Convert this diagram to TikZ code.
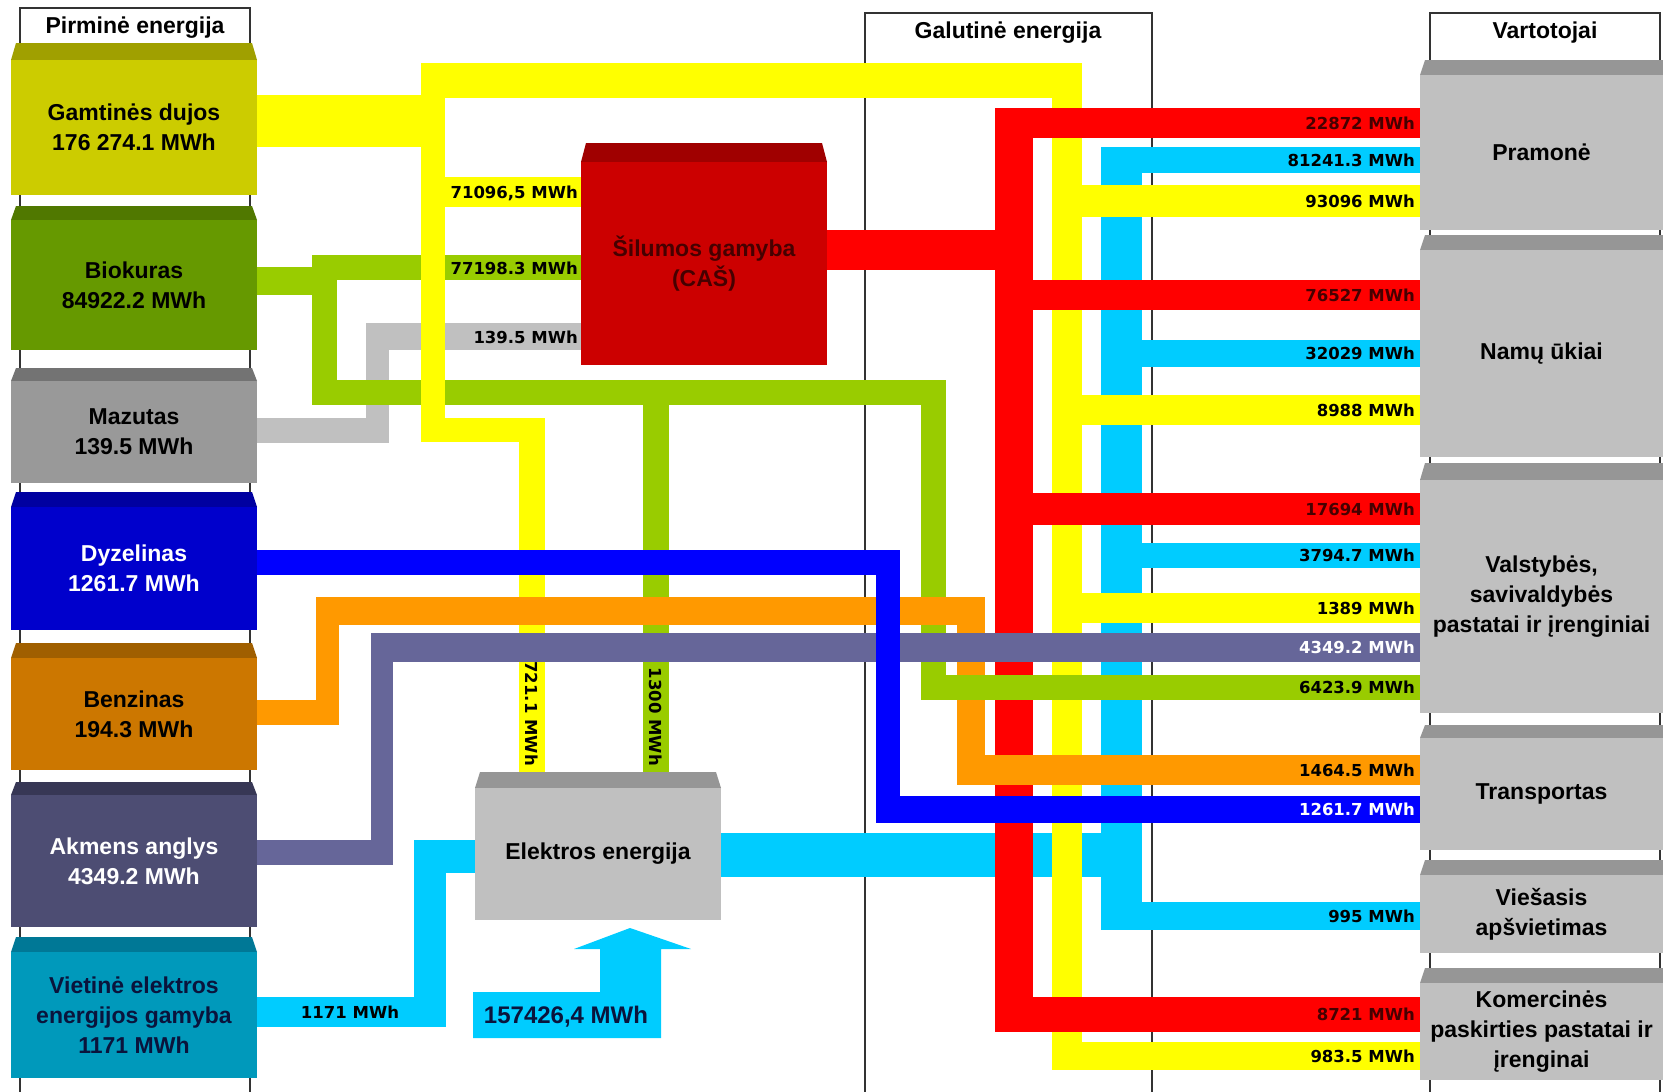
\documentclass[tikz,border=0pt]{standalone}
\usepackage{fontspec}
\setmainfont{Liberation Sans}
\newfontfamily\pixfont{DejaVu Sans}
\usetikzlibrary{positioning}

% boxes
\definecolor{cgas}{RGB}{204,204,0}
\definecolor{cgasd}{RGB}{160,160,0}
\definecolor{cbio}{RGB}{102,153,0}
\definecolor{cbiod}{RGB}{80,120,0}
\definecolor{cmaz}{RGB}{153,153,153}
\definecolor{cmazd}{RGB}{115,115,115}
\definecolor{cdyz}{RGB}{0,0,204}
\definecolor{cdyzd}{RGB}{0,0,160}
\definecolor{cben}{RGB}{204,119,0}
\definecolor{cbend}{RGB}{160,95,0}
\definecolor{cakm}{RGB}{77,77,115}
\definecolor{cakmd}{RGB}{55,55,85}
\definecolor{cvie}{RGB}{0,153,187}
\definecolor{cvied}{RGB}{0,120,150}
\definecolor{cheat}{RGB}{204,0,0}
\definecolor{cheatd}{RGB}{160,0,0}
\definecolor{cgrey}{RGB}{192,192,192}
\definecolor{cgreyd}{RGB}{150,150,150}
% flows
\definecolor{fyel}{RGB}{255,255,0}
\definecolor{fred}{RGB}{255,0,0}
\definecolor{fcya}{RGB}{0,204,255}
\definecolor{fblu}{RGB}{0,0,255}
\definecolor{fora}{RGB}{255,153,0}
\definecolor{fsla}{RGB}{102,102,153}
\definecolor{fgre}{RGB}{153,204,0}
\definecolor{fgry}{RGB}{192,192,192}
\definecolor{dkred}{RGB}{70,0,0}
\definecolor{dknavy}{RGB}{10,20,60}

\begin{document}
\begin{tikzpicture}[x=1pt,y=-1pt,
  frame/.style={draw=black!80, line width=1.5pt},
  box/.style={minimum width=246, minimum height=#1, inner sep=0, align=center,
    font=\bfseries\fontsize{23}{30}\selectfont},
  cbox/.style={box=#1, minimum width=243, fill=cgrey},
  head/.style={inner sep=0, font=\bfseries\fontsize{23}{28}\selectfont},
  flab/.style={inner sep=0, anchor=east, font=\pixfont\bfseries\fontsize{16.5}{18}\selectfont}]
  \useasboundingbox (0,0) rectangle (1663,1092);

  % column frames
  \draw[frame] (20,1092) -- (20,8) -- (250,8) -- (250,1092);
  \draw[frame] (865,1092) -- (865,13) -- (1152,13) -- (1152,1092);
  \draw[frame] (1430,1092) -- (1430,13) -- (1660,13) -- (1660,1092);
  \node[head] (hprim) at (135,28) {Pirminė energija};
  \node[head] (hfin) at (1008,33) {Galutinė energija};
  \node[head] (hcons) at (1545,33) {Vartotojai};

  % bevelled tops
  \foreach \xa/\xb/\ya/\yb/\c in {11/257/43/60/cgasd, 11/257/206/220/cbiod,
      11/257/368/381/cmazd, 11/257/492/507/cdyzd, 11/257/643/658/cbend,
      11/257/782/795/cakmd, 11/257/937/952/cvied, 581/827/143/162/cheatd,
      475/721/772/788/cgreyd, 1420/1668/60/75/cgreyd, 1420/1668/235/250/cgreyd,
      1420/1668/463/480/cgreyd, 1420/1668/725/738/cgreyd,
      1420/1668/860/875/cgreyd, 1420/1668/968/983/cgreyd}
    \fill[\c] (\xa+5,\ya) -- (\xb-5,\ya) -- (\xb,\yb) -- (\xa,\yb) -- cycle;

  % primary energy
  \node[box=135, fill=cgas] (gas) at (134,127.5) {Gamtinės dujos\\176 274.1 MWh};
  \node[box=130, fill=cbio] (bio) at (134,285) {Biokuras\\84922.2 MWh};
  \node[box=102, fill=cmaz] (mazut) at (134,432) {Mazutas\\139.5 MWh};
  \node[box=123, fill=cdyz, text=white] (diesel) at (134,568.5) {Dyzelinas\\1261.7 MWh};
  \node[box=112, fill=cben] (petrol) at (134,714) {Benzinas\\194.3 MWh};
  \node[box=132, fill=cakm, text=white] (coal) at (134,861) {Akmens anglys\\4349.2 MWh};
  \node[box=126, fill=cvie, text=dknavy] (localel) at (134,1015) {Vietinė elektros\\energijos gamyba\\1171 MWh};

  % conversion
  \node[box=203, fill=cheat, text=dkred] (heat) at (704,263.5) {Šilumos gamyba\\(CAŠ)};
  \node[box=132, fill=cgrey] (elec) at (598,854) {Elektros energija};

  % consumers
  \node[cbox=155] (industry) at (1541.5,152.5) {Pramonė};
  \node[cbox=207] (household) at (1541.5,353.5) {Namų ūkiai};
  \node[cbox=233] (public) at (1541.5,596.5) {Valstybės,\\savivaldybės\\pastatai ir įrenginiai};
  \node[cbox=112] (transport) at (1541.5,794) {Transportas};
  \node[cbox=78] (lighting) at (1541.5,914) {Viešasis\\apšvietimas};
  \node[cbox=97] (commerce) at (1541.5,1031.5) {Komercinės\\paskirties pastatai ir\\įrenginai};

  % mazutas
  \fill[fgry] (mazut.east |- 0,418) rectangle (389,443);
  \fill[fgry] (366,323) rectangle (389,443);
  \fill[fgry] (366,323) rectangle (heat.west |- 0,350);

  % biokuras
  \fill[fgre] (bio.east |- 0,267) rectangle (337,295);
  \fill[fgre] (312,255) rectangle (337,405);
  \fill[fgre] (312,255) rectangle (heat.west |- 0,280);
  \fill[fgre] (312,380) rectangle (946,405);
  \fill[fgre] (643,380) rectangle (669,772);

  % elektra
  \fill[fcya] (localel.east |- 0,997) rectangle (446,1027);
  \fill[fcya] (414,840) rectangle (446,1027);
  \fill[fcya] (414,840) rectangle (elec.west |- 0,873);
  \fill[fcya] (elec.east |- 0,833) rectangle (1142,877);
  \fill[fcya] (1101,147) rectangle (1142,930);
  \fill[fcya] (1101,147) rectangle (industry.west |- 0,173);
  \fill[fcya] (1101,340) rectangle (household.west |- 0,367);
  \fill[fcya] (1101,543) rectangle (public.west |- 0,568);
  \fill[fcya] (1101,902) rectangle (lighting.west |- 0,930);
  \fill[fcya] (473,992) -- (600,992) -- (600,949) -- (574,949) -- (630,928)
    -- (691,949) -- (661,949) -- (661,1038) -- (473,1038) -- cycle;

  % gamtines dujos
  \fill[fyel] (gas.east |- 0,95) rectangle (445,147);
  \fill[fyel] (421,63) rectangle (445,442);
  \fill[fyel] (421,63) rectangle (1082,98);
  \fill[fyel] (421,177) rectangle (heat.west |- 0,207);
  \fill[fyel] (421,418) rectangle (545,442);
  \fill[fyel] (519,418) rectangle (545,772);
  \fill[fyel] (1052,63) rectangle (1082,1070);
  \fill[fyel] (1052,185) rectangle (industry.west |- 0,217);
  \fill[fyel] (1052,395) rectangle (household.west |- 0,425);
  \fill[fyel] (1052,593) rectangle (public.west |- 0,623);
  \fill[fyel] (1052,1042) rectangle (commerce.west |- 0,1070);

  % siluma
  \fill[fred] (heat.east |- 0,230) rectangle (1033,270);
  \fill[fred] (995,108) rectangle (1033,1032);
  \fill[fred] (995,108) rectangle (industry.west |- 0,138);
  \fill[fred] (995,280) rectangle (household.west |- 0,310);
  \fill[fred] (995,493) rectangle (public.west |- 0,525);
  \fill[fred] (995,997) rectangle (commerce.west |- 0,1032);

  % benzinas, biokuras (right part)
  \fill[fora] (957,597) rectangle (985,785);
  \fill[fora] (957,755) rectangle (transport.west |- 0,785);
  \fill[fgre] (921,380) rectangle (946,700);
  \fill[fora] (petrol.east |- 0,700) rectangle (339,725);
  \fill[fora] (316,597) rectangle (339,725);
  \fill[fora] (316,597) rectangle (985,625);
  \fill[fgre] (921,675) rectangle (public.west |- 0,700);

  % akmens anglys
  \fill[fsla] (coal.east |- 0,840) rectangle (393,865);
  \fill[fsla] (371,633) rectangle (393,865);
  \fill[fsla] (371,633) rectangle (public.west |- 0,662);

  % dyzelinas
  \fill[fblu] (diesel.east |- 0,550) rectangle (900,575);
  \fill[fblu] (876,550) rectangle (900,823);
  \fill[fblu] (876,796) rectangle (transport.west |- 0,823);

  % flow labels
  \node[flab] (l71096) at (578,193) {71096,5 MWh};
  \node[flab] (l77198) at (578,268) {77198.3 MWh};
  \node[flab] (l1395) at (578,337) {139.5 MWh};
  \node[flab, rotate=-90] (l7211) at (532,766) {721.1 MWh};
  \node[flab, rotate=-90] (l1300) at (656,766) {1300 MWh};
  \node[flab, anchor=center] (l1171) at (350,1012) {1171 MWh};
  \node[inner sep=0, text=dknavy, font=\bfseries\fontsize{24}{28}\selectfont]
    (l157426) at (566,1017) {157426,4 MWh};

  \node[flab, text=dkred] (l22872) at (1415,123) {22872 MWh};
  \node[flab] (l81241) at (1415,160) {81241.3 MWh};
  \node[flab] (l93096) at (1415,201) {93096 MWh};
  \node[flab, text=dkred] (l76527) at (1415,295) {76527 MWh};
  \node[flab] (l32029) at (1415,353) {32029 MWh};
  \node[flab] (l8988) at (1415,410) {8988 MWh};
  \node[flab, text=dkred] (l17694) at (1415,509) {17694 MWh};
  \node[flab] (l37947) at (1415,555) {3794.7 MWh};
  \node[flab] (l1389) at (1415,608) {1389 MWh};
  \node[flab, text=white] (l43492) at (1415,647) {4349.2 MWh};
  \node[flab] (l64239) at (1415,687) {6423.9 MWh};
  \node[flab] (l14645) at (1415,770) {1464.5 MWh};
  \node[flab, text=white] (l12617) at (1415,809) {1261.7 MWh};
  \node[flab] (l995) at (1415,916) {995 MWh};
  \node[flab, text=dkred] (l8721) at (1415,1014) {8721 MWh};
  \node[flab] (l9835) at (1415,1056) {983.5 MWh};
\end{tikzpicture}
\end{document}
